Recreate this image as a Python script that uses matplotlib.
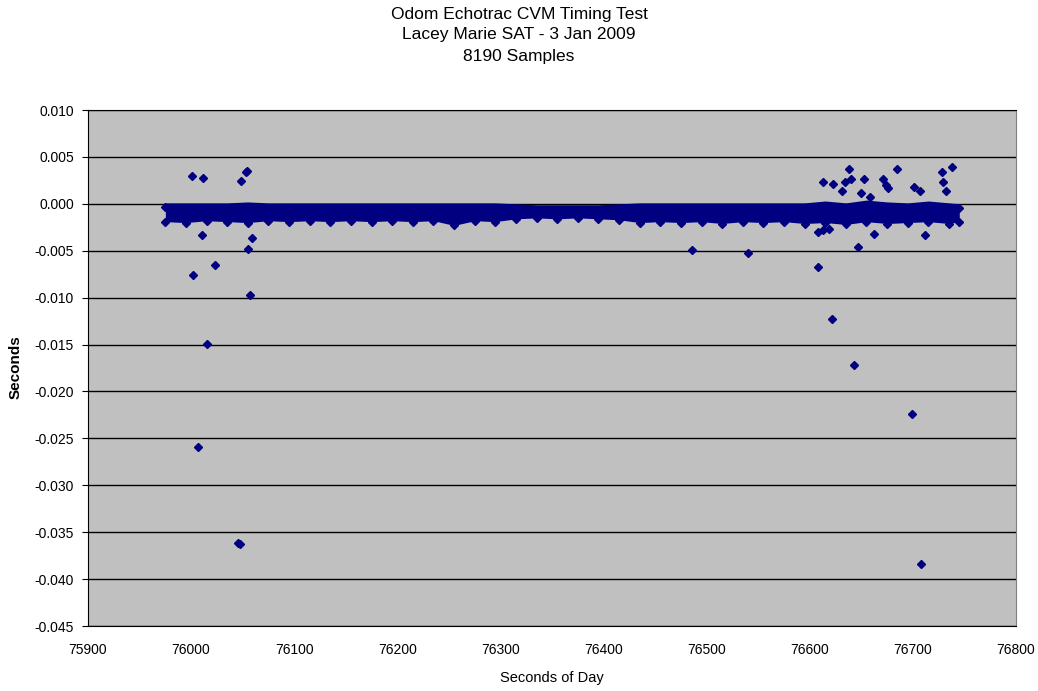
import matplotlib
matplotlib.use("Agg")
import matplotlib.pyplot as plt

# chart text
title_lines = ["Odom Echotrac CVM Timing Test", "Lacey Marie SAT - 3 Jan 2009", "8190 Samples"]
x_label = "Seconds of Day"
y_label = "Seconds"

# dense band of samples: time, upper edge, lower edge (marker centres)
band_x = [75975, 75995, 76015, 76035, 76055, 76075, 76095, 76115, 76135, 76155,
          76175, 76195, 76215, 76235, 76255, 76275, 76295, 76315, 76335, 76355,
          76375, 76395, 76415, 76435, 76455, 76475, 76495, 76515, 76535, 76555,
          76575, 76595, 76615, 76635, 76655, 76675, 76695, 76715, 76735, 76745]
band_top = [0.0001, 0.0001, 0.0001, 0.0001, 0.0002, 0.0001, 0.0001, 0.0001, 0.0001, 0.0001,
            0.0001, 0.0001, 0.0001, 0.0001, 0.0001, 0.0001, 0.0001, 0.0000, -0.0001, -0.0001,
            -0.0001, -0.0001, 0.0000, 0.0001, 0.0001, 0.0001, 0.0001, 0.0001, 0.0001, 0.0001,
            0.0001, 0.0001, 0.0003, 0.0001, 0.0004, 0.0002, 0.0001, 0.0003, 0.0001, 0.0000]
band_bot = [-0.0019, -0.0020, -0.0018, -0.0019, -0.0020, -0.0018, -0.0019, -0.0018, -0.0019, -0.0018,
            -0.0019, -0.0018, -0.0019, -0.0018, -0.0023, -0.0018, -0.0019, -0.0016, -0.0015, -0.0016,
            -0.0015, -0.0016, -0.0017, -0.0020, -0.0019, -0.0020, -0.0019, -0.0021, -0.0019, -0.0020,
            -0.0019, -0.0021, -0.0020, -0.0022, -0.0019, -0.0021, -0.0020, -0.0019, -0.0021, -0.0019]

# isolated samples off the band
out_x = [76000.6, 76011.2, 76053.2, 76054.5, 76048.1, 76010.3, 76059.4, 76054.9, 76023.2,
         76002.1, 76057.1, 76015.1, 76006.4, 76045.5, 76047.5,
         76486.0, 76540.4,
         76612.5, 76622.9, 76638.4, 76634.2, 76640.0, 76631.6, 76652.6, 76649.7, 76658.4,
         76671.3, 76673.9, 76676.2, 76684.9, 76701.1, 76706.9, 76728.6, 76737.6, 76729.5,
         76732.1, 76608.3, 76613.2, 76619.0, 76662.6, 76711.8, 76647.1, 76608.3,
         76621.9, 76642.6, 76699.5, 76707.6]
out_y = [0.00297, 0.00272, 0.00342, 0.00355, 0.00243, -0.00332, -0.00368, -0.00485, -0.00652,
         -0.00759, -0.00972, -0.01497, -0.02589, -0.03620, -0.03630,
         -0.00492, -0.00527,
         0.00229, 0.00211, 0.00368, 0.00236, 0.00261, 0.00133, 0.00261, 0.00119, 0.00070,
         0.00261, 0.00201, 0.00165, 0.00368, 0.00176, 0.00140, 0.00342, 0.00389, 0.00236,
         0.00140, -0.00297, -0.00279, -0.00272, -0.00325, -0.00332, -0.00457, -0.00670,
         -0.01228, -0.01718, -0.02244, -0.03842]

x_ticks = [75900, 76000, 76100, 76200, 76300, 76400, 76500, 76600, 76700, 76800]
y_ticks = [0.010, 0.005, 0.000, -0.005, -0.010, -0.015, -0.020, -0.025, -0.030, -0.035, -0.040, -0.045]

navy = "#000080"
plt.rcParams['font.family'] = ['Liberation Sans', 'DejaVu Sans']

fig = plt.figure(figsize=(10.38, 6.91), dpi=100)
ax = fig.add_axes([88/1038, 65/691, 928/1038, 516/691])
ax.set_facecolor("#c0c0c0")

#grid lines
for yt in y_ticks:
    ax.axhline(yt, color="black", lw=1, zorder=1)

# the 8190 samples overlap into a solid band
ax.fill_between(band_x, band_top, band_bot, color=navy, lw=0, zorder=2)
ax.plot(band_x, band_bot, "D", color=navy, ms=3.8, zorder=3)
ax.plot(band_x[:1] + band_x[-1:], [band_top[0] - 0.0004, band_top[-1] - 0.0004], "D",
        color=navy, ms=3.8, zorder=3)
ax.plot(out_x, out_y, "D", color=navy, ms=3.8, zorder=3)

ax.set_xlim(75900, 76800)
ax.set_ylim(-0.045, 0.010)
ax.set_xticks(x_ticks)
ax.set_xticklabels([str(t) for t in x_ticks])
ax.set_yticks(y_ticks)
ax.set_yticklabels([f"{t:.3f}" for t in y_ticks])
ax.tick_params(axis="both", direction="out", length=4, labelsize=10, colors="black", pad=6)
ax.tick_params(axis="x", length=0, pad=12)

for side in ["left", "bottom", "top"]:
    ax.spines[side].set_color("black")
ax.spines["right"].set_color("#808080")

ax.set_xlabel(x_label, fontsize=10.5, labelpad=10)
fig.text(16/1038, 1 - 367/691, y_label, rotation=90, fontsize=11, fontweight="bold",
         ha="center", va="center")

fig.text(519/1038, 1 - 14/691, title_lines[0], ha="center", va="center", fontsize=12.5)
fig.text(519/1038, 1 - 35/691, title_lines[1], ha="center", va="center", fontsize=12.5)
fig.text(519/1038, 1 - 56/691, title_lines[2], ha="center", va="center", fontsize=12.5)

fig.savefig("out.png", dpi=100)
